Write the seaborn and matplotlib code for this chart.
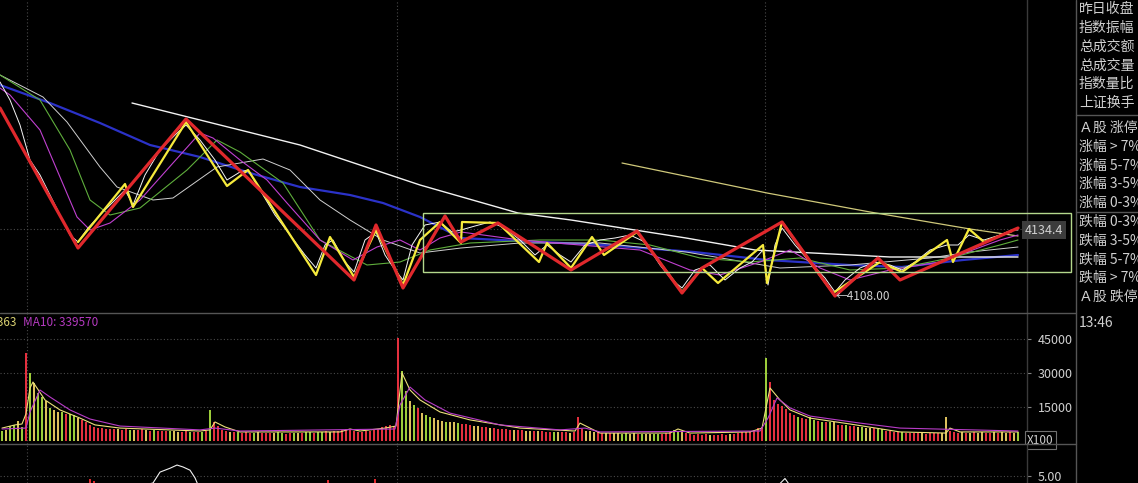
import matplotlib
matplotlib.use("Agg")
import matplotlib.pyplot as plt
import matplotlib.transforms as mtrans
from matplotlib.lines import Line2D
from matplotlib.patches import Rectangle
from matplotlib.ticker import FuncFormatter
import seaborn as sns

# dark terminal look
sns.set_theme(style="dark", rc={"axes.facecolor": "black", "figure.facecolor": "black",
                                "savefig.facecolor": "black"})
plt.rcParams['font.family'] = ['Noto Sans CJK SC', 'DejaVu Sans']

#
# data (x = bar slot, price in index points, volume in thousands of hands)
#

day_breaks = [6.25, 98.75, 190.75]
last_price = 4134.4
low_price = 4108.0
grid_price = 4134.8

red_x = [-0.5, 19, 46, 88, 93.5, 100.25, 110.75, 114.75, 124, 142.25, 158.75, 170, 175, 195,
         208.25, 219, 224.5, 254]
red_y = [4183.2, 4127.2, 4178.8, 4114.4, 4136.4, 4111.2, 4140.0, 4129.6, 4137.2, 4118.4, 4134.0,
         4109.2, 4119.2, 4137.6, 4108.0, 4123.2, 4114.4, 4135.2]

yel_x = [19, 30.75, 32.75, 46, 56.25, 61.5, 78.5, 82, 88, 93.5, 100.25, 104.5, 109.5, 114.75, 115,
         124, 134.25, 136.25, 142.25, 147.5, 150.5, 158.75, 170, 175, 179, 190.25, 191.25, 195,
         202, 207.75, 219.5, 225, 236.25, 237.75, 241.75, 245.5, 252.5]
yel_y = [4129.6, 4152.8, 4143.6, 4177.6, 4152.0, 4158.4, 4116.4, 4131.6, 4115.6, 4134.4, 4112.4,
         4130.4, 4137.6, 4129.2, 4137.6, 4137.2, 4121.6, 4129.2, 4119.2, 4131.6, 4124.4, 4133.6,
         4109.6, 4119.2, 4113.2, 4128.4, 4113.2, 4137.6, 4121.6, 4109.2, 4121.6, 4117.6, 4130.4,
         4121.6, 4134.8, 4129.6, 4134.0]

price_x = [-0.5, 2, 4.5, 7, 9.5, 12, 14.5, 17, 19, 21.5, 24.5, 27, 30.75, 32.75, 35.75, 39.5,
           43.25, 46, 49.5, 53.25, 56.25, 59.5, 61.5, 64.5, 68.25, 72, 75.75, 78.5, 80.75, 82.75,
           85.75, 88, 90.75, 93.5, 95.75, 98.25, 100.25, 102.5, 105.75, 109.5, 112.5, 114.75,
           118.25, 122, 125.75, 129.5, 133.25, 136.25, 139.5, 142.25, 145.75, 149.5, 153.25, 157,
           160.75, 164.5, 167.5, 170, 173.25, 177, 180.75, 184.5, 187.5, 190.25, 191.5, 193.25,
           195, 198.25, 202, 205.75, 208.25, 210.75, 214.5, 218.25, 222, 225, 228.25, 232, 236.25,
           239, 241.75, 245.5, 249.5, 252.5, 254]
price_y = [4193.6, 4186.4, 4176.4, 4162.4, 4156.4, 4148.4, 4140.4, 4132.4, 4129.6, 4135.2,
           4140.4, 4144.4, 4150.4, 4144.4, 4156.4, 4166.4, 4172.4, 4176.4, 4170.4, 4162.4,
           4154.4, 4157.6, 4158.4, 4150.4, 4140.4, 4132.4, 4124.4, 4119.2, 4128.4, 4130.4,
           4121.6, 4117.6, 4130.4, 4133.6, 4124.4, 4118.4, 4114.4, 4128.4, 4136.4, 4137.6,
           4133.6, 4134.4, 4136.0, 4137.6, 4135.2, 4130.4, 4124.4, 4128.4, 4124.4, 4121.6,
           4128.4, 4130.4, 4131.2, 4132.4, 4129.6, 4120.4, 4114.4, 4111.2, 4118.4, 4120.4,
           4114.4, 4119.2, 4121.6, 4126.4, 4112.4, 4128.4, 4135.2, 4128.4, 4121.6, 4115.2,
           4109.6, 4114.4, 4119.2, 4121.6, 4120.4, 4118.4, 4121.6, 4126.4, 4128.4, 4128.4,
           4132.4, 4130.4, 4132.4, 4134.4, 4134.4]

purple_x = [-0.5, 2, 9.5, 13.75, 18.75, 22, 27, 34.5, 42.75, 49.5, 52.75, 59.5, 66.25, 71.25,
            79.5, 87.75, 93.75, 99.5, 104.5, 109.5, 114.75, 129.5, 144.5, 159.5, 172, 179.5,
            189.5, 197, 204.5, 212, 222, 234.5, 249.5, 254]
purple_y = [4191.2, 4188.4, 4174.4, 4158.4, 4139.6, 4134.4, 4137.2, 4146.4, 4161.2, 4173.2,
            4171.2, 4162.4, 4154.4, 4145.2, 4130.4, 4122.4, 4127.6, 4130.4, 4126.4, 4131.2,
            4133.6, 4130.4, 4128.4, 4126.4, 4118.4, 4116.4, 4121.6, 4126.4, 4119.2, 4114.4,
            4118.4, 4121.6, 4130.4, 4132.4]

green_x = [-0.5, 9.5, 17, 22, 27, 34.5, 46.25, 53.75, 59.5, 70.25, 79.5, 91.25, 99.5, 107, 117,
           134.5, 149.5, 162, 174.5, 187, 199.5, 212, 224.5, 237, 249.5, 254]
green_y = [4196.4, 4186.4, 4166.4, 4146.4, 4140.4, 4143.2, 4158.4, 4170.4, 4165.6, 4153.2,
           4130.4, 4120.4, 4121.6, 4126.4, 4129.2, 4130.4, 4130.4, 4128.4, 4123.2, 4121.6,
           4123.2, 4118.4, 4119.2, 4123.2, 4128.4, 4130.4]

blue_x = [-0.5, 12, 24.5, 37, 49.5, 62, 74.5, 87, 95.25, 104.5, 114.75, 124.5, 150.5, 173,
          191.25, 211.75, 225, 240.25, 254]
blue_y = [4192.4, 4185.2, 4177.2, 4168.4, 4163.6, 4157.2, 4151.6, 4148.4, 4145.2, 4139.6,
          4131.2, 4130.4, 4128.4, 4125.6, 4122.4, 4120.4, 4119.6, 4122.4, 4124.4]

long_white_x = [32.5, 49.5, 74.5, 104.5, 129, 142.25, 171, 188.25, 222, 254]
long_white_y = [4185.2, 4178.4, 4168.4, 4152.4, 4141.2, 4138.4, 4131.2, 4126.4, 4123.6, 4123.6]

thin_white_x = [-0.5, 10.25, 16.25, 24.5, 28.75, 37.75, 42.75, 53.75, 65.25, 72, 79.5, 87,
                95.25, 104.5, 114.75, 129.5, 149.5, 171, 194.5, 212, 232, 242, 254]
thin_white_y = [4196.4, 4187.6, 4177.6, 4159.6, 4151.6, 4146.4, 4147.2, 4159.6, 4162.8,
                4158.4, 4146.4, 4138.4, 4130.4, 4125.2, 4127.2, 4129.2, 4129.2, 4125.6,
                4119.2, 4120.4, 4123.2, 4125.6, 4127.6]

khaki_x = [155, 191.25, 217, 242, 254]
khaki_y = [4161.2, 4149.2, 4141.6, 4134.8, 4132.0]

# consolidation box drawn on the chart
box_left, box_right = 105.25, 267.25
box_bottom, box_top = 4117.6, 4141.2

# volume per bar, thousands (axis shows x100 hands)
vol_a = [4.2, 5.0, 6.5, 7.0, 8.8, 6.0]
vol_b = [38.8, 30.0, 25.5, 21.0, 19.5, 17.5, 14.5, 13.5, 13.0, 12.8, 12.0, 11.8, 11.5, 10.0,
         9.2, 8.6, 7.0, 6.2, 5.8,
         5.6, 5.5, 5.3, 5.4, 5.2, 5.0, 5.3, 5.0, 4.8, 5.0, 5.1, 4.8, 4.6, 4.7, 4.5, 4.6, 4.3,
         4.2, 4.4, 4.1, 4.0, 4.2, 4.0, 3.9, 4.1, 4.0, 4.2,
         13.7, 8.5, 6.4,
         4.8, 4.3, 4.0, 3.8, 3.9, 3.6, 3.8, 3.5, 3.7, 3.9, 3.6, 3.4, 3.7, 3.5, 3.8, 3.6, 3.3,
         3.5, 3.7, 3.4, 3.6,
         3.8, 4.0, 3.7, 4.1, 3.9, 4.2, 4.0, 4.3, 4.6, 5.0, 5.2, 4.8, 4.4, 4.1, 4.0, 4.2, 4.4,
         4.8, 5.5, 6.2, 6.8,
         7.0, 6.5]
vol_c = [45.4, 31.0, 22.0, 17.5, 16.0, 14.5, 12.5, 11.5, 10.6, 10.0, 9.4, 8.8, 8.6, 8.4, 8.2,
         7.8, 7.6, 7.3, 7.0, 6.8, 6.5, 6.2, 6.0, 5.8, 5.7, 5.5, 5.3,
         5.2, 5.0, 4.9, 5.0, 4.7, 4.5, 4.6, 4.4, 4.2, 4.3, 4.0, 4.1, 3.9, 4.0, 3.8, 3.9, 3.7, 3.8,
         10.6, 5.2, 4.6,
         4.2, 4.0, 3.8, 3.6, 3.7, 3.5, 3.4, 3.6, 3.3, 3.5, 3.2, 3.4, 3.1, 3.3, 3.0, 3.2, 3.0,
         3.1, 2.9,
         3.5, 4.2, 4.8, 4.6, 4.0, 3.4, 3.0,
         2.8, 3.0, 2.7, 2.9, 2.6, 2.8, 2.7, 3.0, 2.8, 3.1, 3.2, 3.5, 3.8, 4.0, 4.5, 5.0, 5.6, 6.2]
vol_d = [36.6, 26.0, 18.0, 16.5, 15.5, 14.0, 12.5, 11.5, 10.6, 10.2, 9.8, 10.4, 9.2, 8.8, 8.6,
         8.4, 8.5, 8.2, 7.2, 7.0, 7.1, 6.8, 6.6, 6.2, 6.0, 5.8, 5.9, 5.6, 5.4, 5.2, 4.6, 4.2,
         4.0, 3.8, 3.9,
         3.7, 3.5, 3.6, 3.4, 3.5, 3.3, 3.6, 3.4, 3.5, 3.6,
         10.6, 4.2,
         3.8, 3.6, 3.9, 3.7, 3.5, 3.8, 3.6, 3.9, 3.7, 3.5, 3.8, 3.6, 3.9, 3.7, 3.8, 3.6, 3.9]

# bar colour per bar: r = up (red), g = down (green), y = flat
tone_a = "gyggyg"
tone_b = ("r" + "gyggygyygrggyrrrrr" + "rrrryrrgyrryrgrrrgyyrrgrrgr" + "grr"
          + "rryrgrrrgyrrryggrrgyr" + "ggrggryrrrrrrrrrrrrrr" + "rr")
tone_c = ("r" + "ggygryggyyygyygrrryyrryrrr" + "rryrryyryrrrgyrryr" + "rry"
          + "yyrryryyggyyrgyyggr" + "rrggyrr" + "rrrryrrrryrrrrrrrr")
tone_d = ("g" + "rrrrrrrgrrggrgrgyrrgrrygyyrggrrrrg" + "rrrryrrrry" + "yr"
          + "rryryryyrryryyryg")

vol_ma5_x = [0, 3.25, 5, 6, 7, 7.75, 10.75, 14.5, 19.5, 23.25, 29.5, 49.5, 52, 53.25, 55.75,
             59.5, 84.5, 87, 89.5, 95.75, 98.5, 100, 102, 104.5, 109.5, 117, 129.5, 143.25,
             144.5, 147, 149.5, 167, 169, 172, 187, 190, 192, 194.5, 197, 202, 212, 224.5, 236,
             237, 239.5, 254]
vol_ma5 = [5.7, 7.1, 7.5, 12.0, 23.4, 26.0, 18.1, 13.7, 10.1, 7.1, 5.7, 4.4, 4.9, 8.4, 6.2,
           4.0, 4.0, 5.3, 4.4, 5.7, 6.6, 30.0, 22.5, 18.1, 12.8, 9.3, 5.7, 4.4, 7.9, 5.7, 3.5,
           3.5, 5.3, 3.5, 4.0, 5.7, 23.4, 18.1, 13.7, 10.1, 7.5, 4.0, 3.5, 5.7, 4.0, 4.0]
vol_ma10_x = [0, 6, 7, 9.5, 12, 17, 22, 29.5, 49.5, 53.25, 59.5, 98.25, 99.5, 102, 105.75, 112,
              124.5, 139.5, 145.75, 149.5, 189.5, 191.5, 193.75, 197, 202, 214.5, 224.5, 254]
vol_ma10 = [5.3, 5.7, 12.8, 22.5, 19.4, 13.7, 9.7, 6.6, 4.9, 5.7, 4.4, 5.3, 15.9, 23.8, 18.1,
            12.3, 7.1, 4.9, 5.7, 4.0, 4.4, 10.1, 19.0, 14.6, 11.0, 7.9, 5.7, 4.4]
vol_ticks = [15, 30, 45]

# lower indicator pane
ind_x = [-0.5, 30, 37.75, 39.5, 40.75, 42, 43.75, 45.25, 47, 48.25, 49, 60, 180, 194, 195.75,
         197, 210, 254]
ind_y = [2.5, 2.8, 3.9, 5.6, 5.9, 6.2, 6.7, 6.4, 5.9, 4.7, 3.6, 2.8, 2.6, 3.5, 4.6, 3.5, 2.7, 2.5]
ind_bar_x = [22, 23, 81.5, 93.25]
ind_bar_top = [4.6, 4.2, 4.3, 4.6]

side_labels = ["昨日收盘", "指数振幅", "总成交额", "总成交量", "指数量比", "上证换手",
               "Ａ股 涨停", "涨幅 > 7%", "涨幅 5-7%", "涨幅 3-5%", "涨幅 0-3%",
               "跌幅 0-3%", "跌幅 3-5%", "跌幅 5-7%", "跌幅 > 7%", "Ａ股 跌停"]
side_rows = [9, 28, 47, 66, 84, 103, 128, 147, 166, 184, 203, 222, 241, 260, 278, 297]

#
# figure
#

W, H = 1138, 483
fig = plt.figure(figsize=(W / 100, H / 100), dpi=100)
right = 1027 / W
ax = fig.add_axes([0, 1 - 313 / H, right, 313 / H])
axv = fig.add_axes([0, 1 - 444 / H, right, 131 / H])
axi = fig.add_axes([0, 0, right, 39 / H])

xlim = (-0.5, 256.25)
grid_kw = dict(color="#4a4a4a", lw=0.8, ls=(0, (1, 2)), zorder=1)
for a in (ax, axv, axi):
    a.set_xlim(*xlim)
    a.set_xticks([])
    a.grid(False)
    for s in ("top", "bottom", "left"):
        a.spines[s].set_visible(False)
    a.spines["right"].set_color("#3a3a3a")
    a.spines["right"].set_linewidth(1)
    for b in day_breaks:
        a.axvline(b, **grid_kw)

# ---- price pane
ax.set_ylim(4101.2, 4226.4)
ax.set_yticks([])
ax.axhline(grid_price, **grid_kw)

thin = dict(ax=ax, estimator=None, sort=False, legend=False)
sns.lineplot(x=blue_x, y=blue_y, color="#2b32c8", linewidth=1.6, zorder=2, **thin)
sns.lineplot(x=long_white_x, y=long_white_y, color="#f2f2f2", linewidth=1.0, zorder=2, **thin)
sns.lineplot(x=khaki_x, y=khaki_y, color="#cfc87a", linewidth=0.9, zorder=2, **thin)
sns.lineplot(x=thin_white_x, y=thin_white_y, color="#d0d0d0", linewidth=0.7, zorder=2, **thin)
sns.lineplot(x=green_x, y=green_y, color="#5fae3c", linewidth=0.8, zorder=2, **thin)
sns.lineplot(x=purple_x, y=purple_y, color="#c040d0", linewidth=0.8, zorder=2, **thin)
sns.lineplot(x=price_x, y=price_y, color="#f4f4f4", linewidth=0.7, zorder=3, **thin)
sns.lineplot(x=yel_x, y=yel_y, color="#f6ea3c", linewidth=1.6, zorder=4, **thin)
sns.lineplot(x=red_x, y=red_y, color="#e0282c", linewidth=2.3, zorder=5, **thin)

ax.add_patch(Rectangle((box_left, box_bottom), box_right - box_left, box_top - box_bottom,
                       fill=False, ec="#b4d88c", lw=1.0, clip_on=False, zorder=6))

blend = mtrans.blended_transform_factory(ax.transAxes, ax.transData)
ax.text(0.998, last_price, f"{last_price:.1f}", transform=blend, ha="left", va="center",
        fontsize=9, color="#d0d0d0", clip_on=False, zorder=7,
        bbox=dict(boxstyle="square,pad=0.22", fc="#3c3c3c", ec="none"))
ax.text(208.3, low_price, f"←{low_price:.2f}", ha="left", va="center", fontsize=8.5,
        color="#d0d0d0", zorder=7)

# ---- volume pane
axv.set_ylim(-1.32, 56.45)
palette = {"r": "#e4303e", "g": "#9ccc3a", "y": "#dcc05c"}
vols = vol_a + vol_b + vol_c + vol_d
tones = tone_a + tone_b + tone_c + tone_d
axv.bar(range(len(vols)), vols, width=0.72, color=[palette[t] for t in tones[:len(vols)]],
        linewidth=0, zorder=2)
sns.lineplot(x=vol_ma5_x, y=vol_ma5, ax=axv, color="#ece07a", linewidth=0.8, estimator=None,
             sort=False, zorder=3)
sns.lineplot(x=vol_ma10_x, y=vol_ma10, ax=axv, color="#b83cc8", linewidth=0.8, estimator=None,
             sort=False, zorder=3)
axv.yaxis.tick_right()
axv.set_yticks(vol_ticks)
axv.yaxis.set_major_formatter(FuncFormatter(lambda v, _: f"{v * 1000:.0f}"))
axv.tick_params(axis="y", colors="#d0d0d0", labelsize=9, length=3, width=0.8, pad=5,
                labelcolor="#d0d0d0")
axv.tick_params(axis="y", color="#808080")
for t in vol_ticks:
    axv.axhline(t, **grid_kw)
axv.text(16 / 1027, 0.93, "MA5: 344363", transform=axv.transAxes, ha="right", va="center",
         fontsize=8.5, color="#d8d070", clip_on=True)
axv.text(23 / 1027, 0.93, "MA10: 339570", transform=axv.transAxes, ha="left", va="center",
         fontsize=8.5, color="#b53ac0")
axv.text(1.0, 0.03, "X100", transform=axv.transAxes, ha="left", va="center", fontsize=8.5,
         color="#d0d0d0", clip_on=False,
         bbox=dict(boxstyle="square,pad=0.2", fc="black", ec="#707070", lw=0.8))

# ---- indicator pane
axi.set_ylim(3.9, 9.98)
axi.bar(ind_bar_x, [t - 3.0 for t in ind_bar_top], bottom=3.0, width=0.35, color="#e0282c",
        linewidth=0, zorder=2)
sns.lineplot(x=ind_x, y=ind_y, ax=axi, color="#f0f0f0", linewidth=0.8, estimator=None,
             sort=False, zorder=3)
axi.axhline(5.0, **grid_kw)
axi.yaxis.tick_right()
axi.set_yticks([5.0])
axi.yaxis.set_major_formatter(FuncFormatter(lambda v, _: f"{v:.2f}"))
axi.tick_params(axis="y", labelsize=9, length=3, width=0.8, pad=5, labelcolor="#d0d0d0",
                color="#808080")

# ---- frame lines and side panel
line_c = "#555555"
for ypix in (313, 444):
    fig.add_artist(Line2D([0, 1076 / W], [1 - ypix / H] * 2, color=line_c, lw=1))
fig.add_artist(Line2D([1076 / W] * 2, [0, 1], color=line_c, lw=1))
for ypix in (115, 212):
    fig.add_artist(Line2D([1076 / W, 1], [1 - ypix / H] * 2, color=line_c, lw=1))

for label, ypix in zip(side_labels, side_rows):
    fig.text(1079 / W, 1 - ypix / H, label, ha="left", va="center", fontsize=10,
             color="#cfcfcf")
fig.text(1079 / W, 1 - 323 / H, "13:46", ha="left", va="center", fontsize=10, color="#cfcfcf")

fig.savefig("out.png", dpi=100)
